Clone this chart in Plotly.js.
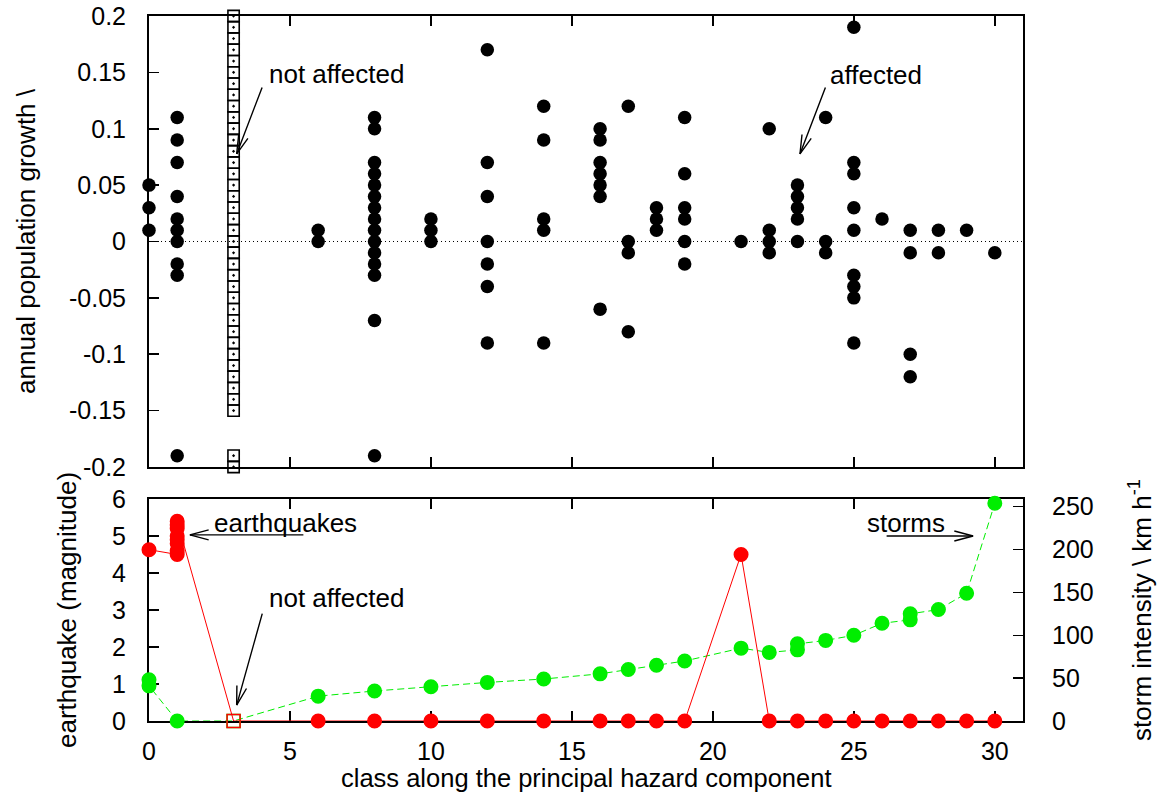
<!DOCTYPE html>
<html><head><meta charset="utf-8">
<script src="https://cdn.plot.ly/plotly-3.0.1.min.js"></script>
<style>html,body{margin:0;padding:0;background:#fff}#chart{width:1158px;height:793px}</style>
</head><body><div id="chart"></div>
<script>
// ---------- data ----------
// top panel: annual population growth per class, affected classes (filled dots)
const affectedClass = [
  0,0,0,
  1,1,1,1,1,1,1,1,1,1,
  6,6,
  8,8,8,8,8,8,8,8,8,8,8,8,8,8,8,
  10,10,10,
  12,12,12,12,12,12,12,
  14,14,14,14,14,
  16,16,16,16,16,16,16,
  17,17,17,17,
  18,18,18,
  19,19,19,19,19,19,
  21,
  22,22,22,22,
  23,23,23,23,23,
  24,24,24,
  25,25,25,25,25,25,25,25,25,
  26,
  27,27,27,27,
  28,28,
  29,
  30
];
const affectedGrowth = [
  0.05,0.03,0.01,
  0.11,0.09,0.07,0.04,0.02,0.01,0,-0.02,-0.03,-0.19,
  0.01,0,
  0.11,0.10,0.07,0.06,0.05,0.04,0.03,0.02,0.01,0,-0.01,-0.02,-0.03,-0.07,-0.19,
  0.02,0.01,0,
  0.17,0.07,0.04,0,-0.02,-0.04,-0.09,
  0.12,0.09,0.02,0.01,-0.09,
  0.10,0.09,0.07,0.06,0.05,0.04,-0.06,
  0.12,0,-0.01,-0.08,
  0.03,0.02,0.01,
  0.11,0.06,0.03,0.02,0,-0.02,
  0,
  0.10,0.01,0,-0.01,
  0.05,0.04,0.03,0.02,0,
  0.11,0,-0.01,
  0.19,0.07,0.06,0.03,0.01,-0.03,-0.04,-0.05,-0.09,
  0.02,
  0.01,-0.01,-0.10,-0.12,
  0.01,-0.01,
  0.01,
  -0.01
];
// not affected class (open squares)
const notAffectedClassValue = 3;
const notAffectedGrowth = [
  0.20,0.19,0.18,0.17,0.16,0.15,0.14,0.13,0.12,0.11,0.10,
  0.09,0.08,0.07,0.06,0.05,0.04,0.03,0.02,0.01,0,
  -0.01,-0.02,-0.03,-0.04,-0.05,-0.06,-0.07,-0.08,-0.09,-0.10,
  -0.11,-0.12,-0.13,-0.14,-0.15,-0.19,-0.20
];

// bottom panel: earthquake magnitude (left axis)
const quakeClass     = [0, 1,1,1,1,1,1,1,1, 3, 6,8,10,12,14,16,17,18,19, 21, 22,23,24,25,26,27,28,29,30];
const quakeMagnitude = [4.63, 4.5,4.6,4.8,4.9,5.0,5.2,5.3,5.4, 0, 0,0,0,0,0,0,0,0,0, 4.5, 0,0,0,0,0,0,0,0,0];
// bottom panel: storm intensity km/h (right axis)
const stormClass     = [0,0,1,3,6,8,10,12,14,16,17,18,19,21,22,23,23,24,25,26,27,27,28,29,30];
const stormIntensity = [48,41,0,0,29,35,40,45,49,55,60,65,70,85,80,83,90,94,100,114,118,125,130,149,254];

// tick labels
const classTicks      = [0,5,10,15,20,25,30];
const classTickText   = ['0','5','10','15','20','25','30'];
const growthTicks     = [-0.2,-0.15,-0.1,-0.05,0,0.05,0.1,0.15,0.2];
const growthTickText  = ['-0.2','-0.15','-0.1','-0.05','0','0.05','0.1','0.15','0.2'];
const magTicks        = [0,1,2,3,4,5,6];
const magTickText     = ['0','1','2','3','4','5','6'];
const stormTicks      = [0,50,100,150,200,250];
const stormTickText   = ['0','50','100','150','200','250'];

// ---------- traces ----------
const traces = [
  {
    x: notAffectedGrowth.map(() => notAffectedClassValue), y: notAffectedGrowth,
    xaxis:'x', yaxis:'y', type:'scatter', mode:'markers', cliponaxis:false,
    marker:{symbol:'square-open-dot', size:11.3, opacity:1, color:'black', line:{width:1.6, color:'black'}},
    hoverinfo:'skip'
  },
  {
    x: affectedClass, y: affectedGrowth,
    xaxis:'x', yaxis:'y', type:'scatter', mode:'markers', cliponaxis:false,
    marker:{symbol:'circle', size:13.5, opacity:1, color:'black', line:{width:0}},
    hoverinfo:'skip'
  },
  {
    x: stormClass, y: stormIntensity,
    xaxis:'x2', yaxis:'y2', type:'scatter', mode:'lines+markers', cliponaxis:false,
    line:{color:'#00ee00', width:1, dash:'7px,4px'},
    marker:{symbol: stormClass.map(c => c === notAffectedClassValue ? 'square-open' : 'circle'),
            size: stormClass.map(c => c === notAffectedClassValue ? 13 : 13.5),
            opacity:1, color:'#00ee00', line:{width:1.5, color:'#00ee00'}},
    hoverinfo:'skip'
  },
  {
    x: quakeClass, y: quakeMagnitude,
    xaxis:'x2', yaxis:'y3', type:'scatter', mode:'lines+markers', cliponaxis:false,
    line:{color:'#ff0000', width:1},
    marker:{symbol: quakeClass.map(c => c === notAffectedClassValue ? 'square-open' : 'circle'),
            size: quakeClass.map(c => c === notAffectedClassValue ? 13 : 13.5),
            opacity:1, color:'#ff0000', line:{width:1.5, color:'#ff0000'}},
    hoverinfo:'skip'
  }
];

// ---------- annotations ----------
const annFont = {family:'Liberation Sans, Arial, sans-serif', size:26, color:'black'};
function label(xref, yref, x, y, text) {
  return {xref, yref, x, y, text, showarrow:false, xanchor:'left', yanchor:'middle', font:annFont};
}
function arrow(xref, yref, x, y, ax, ay, L, deg) {
  const out = [{xref, yref, x, y, ax, ay, text:'', showarrow:true, arrowhead:0,
                arrowwidth:1.4, arrowcolor:'black', standoff:0, startstandoff:0}];
  const th = Math.atan2(ay, ax);
  [1,-1].forEach(s => {
    const a = th + s*deg*Math.PI/180;
    out.push({xref, yref, x, y, ax: L*Math.cos(a), ay: L*Math.sin(a), text:'', showarrow:true,
              arrowhead:0, arrowwidth:1.4, arrowcolor:'black', standoff:0, startstandoff:0});
  });
  return out;
}
const annotations = [
  label('x','y', 4.17, 0.149, 'not affected'),
  ...arrow('x','y', 3.11, 0.0777, 26, -68, 21, 15),
  label('x','y', 24.08, 0.148, 'affected'),
  ...arrow('x','y', 23.09, 0.0777, 26, -68, 21, 15),
  label('x2','y3', 2.22, 5.35, 'earthquakes'),
  ...arrow('x2','y3', 1.45, 5.03, 115, 0, 21, 15),
  label('x2','y3', 4.17, 3.32, 'not affected'),
  ...arrow('x2','y3', 3.11, 0.43, 26, -93, 21, 15),
  label('x2','y3', 25.39, 5.35, 'storms'),
  ...arrow('x2','y3', 29.23, 5.0, -88, 0, 21, 15),
  // x-axis title of the lower panel
  {xref:'paper', yref:'paper', x:0.5, y:-0.0809, xanchor:'center', yanchor:'middle', showarrow:false,
   borderpad:0, text:'class along the principal hazard component',
   font:{family:'Liberation Sans, Arial, sans-serif', size:25.5, color:'black'}}
];

const axisCommon = {
  ticks:'inside', ticklen:10, tickwidth:1.5, tickcolor:'black',
  showline:true, linewidth:2, linecolor:'black',
  showgrid:false, zeroline:false, layer:'below traces',
  tickfont:{family:'Liberation Sans, Arial, sans-serif', size:25, color:'black'}
};
const titleFont = {family:'Liberation Sans, Arial, sans-serif', size:26, color:'black'};

const layout = {
  width:1158, height:793,
  margin:{l:149, r:135, t:16, b:72, pad:0},
  paper_bgcolor:'white', plot_bgcolor:'white',
  font:{family:'Liberation Sans, Arial, sans-serif', size:25, color:'black'},
  showlegend:false,
  xaxis: Object.assign({}, axisCommon, {domain:[0,1], anchor:'y', range:[0,31],
          tickvals:classTicks, ticktext:classTickText, showticklabels:false, mirror:'ticks'}),
  yaxis: Object.assign({}, axisCommon, {domain:[0.3603,1], anchor:'x', range:[-0.2,0.2],
          tickvals:growthTicks, ticktext:growthTickText, mirror:true, ticklabelstandoff:16,
          title:{text:'annual population growth \\', font:titleFont, standoff:26}}),
  xaxis2: Object.assign({}, axisCommon, {domain:[0,1], anchor:'y2', range:[0,31],
          tickvals:classTicks, ticktext:classTickText, mirror:'ticks', ticklabelstandoff:7}),
  // storm intensity (right)
  yaxis2: Object.assign({}, axisCommon, {domain:[0,0.3149], anchor:'x2', side:'right', range:[0,259],
          tickvals:stormTicks, ticktext:stormTickText, ticklabelstandoff:22,
          title:{text:'storm intensity \\ km h<sup>-1</sup>', font:titleFont, standoff:40}}),
  // earthquake magnitude (left)
  yaxis3: Object.assign({}, axisCommon, {overlaying:'y2', side:'left', anchor:'x2', range:[0,6],
          tickvals:magTicks, ticktext:magTickText, ticklabelstandoff:16,
          title:{text:'earthquake (magnitude)', font:titleFont, standoff:28}}),
  shapes:[
    {type:'line', xref:'x', yref:'y', x0:0, x1:31, y0:0, y1:0,
     line:{color:'black', width:1, dash:'1px,3px'}, layer:'below'}
  ],
  annotations
};

Plotly.newPlot('chart', traces, layout, {displayModeBar:false, staticPlot:true});
</script>
</body></html>
